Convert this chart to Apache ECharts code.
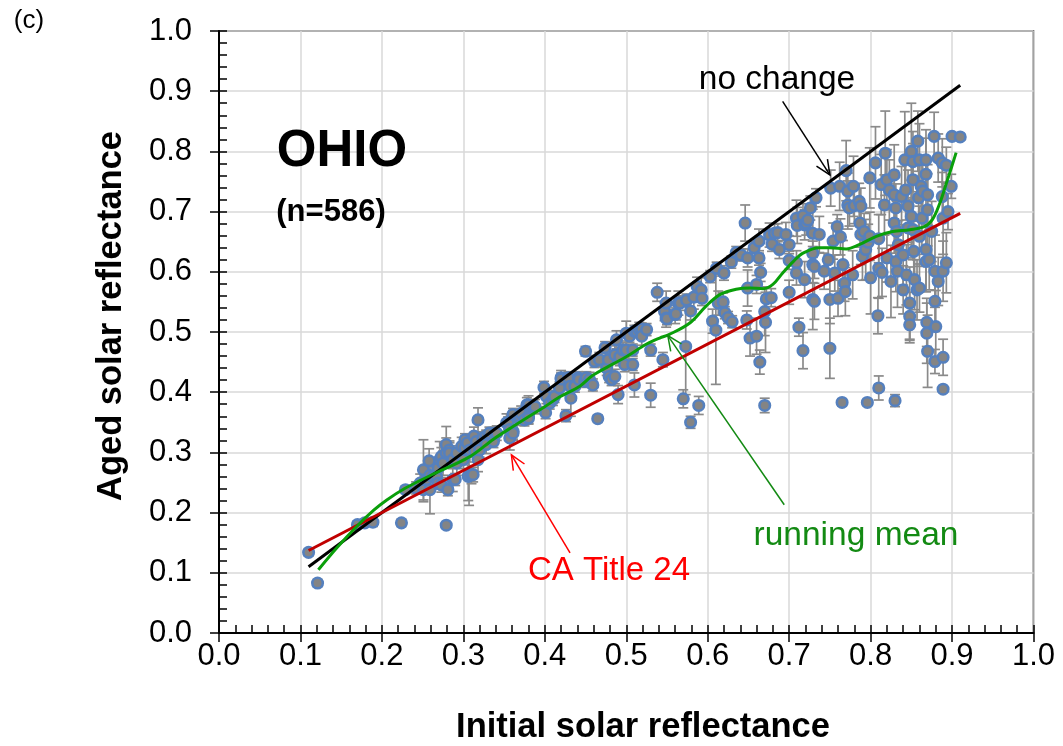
<!DOCTYPE html>
<html>
<head>
<meta charset="utf-8">
<script src="https://cdn.jsdelivr.net/npm/echarts@6/dist/echarts.min.js"></script>
<style>
html,body{margin:0;padding:0;background:#fff;}
#chart{width:1063px;height:746px;}
</style>
</head>
<body>
<div id="chart"></div>
<script>
// ---- data: [initial, aged, error half-width] ----
const lowPts = [[0.110,0.134,0.006],[0.121,0.083,0.006],[0.170,0.180,0.006],[0.179,0.183,0.006],[0.189,0.184,0.007],[0.224,0.183,0.006],[0.229,0.238,0.006],[0.279,0.179,0.005]];
const clusterPts = [[0.242,0.241,0.01],[0.247,0.249,0.015],[0.251,0.271,0.05],[0.251,0.238,0.02],[0.255,0.255,0.012],[0.258,0.286,0.02],[0.259,0.238,0.04],[0.259,0.262,0.012],[0.263,0.260,0.015],[0.267,0.260,0.02],[0.269,0.274,0.012],[0.269,0.249,0.01],[0.271,0.288,0.03],[0.273,0.293,0.015],[0.273,0.246,0.012],[0.275,0.282,0.02],[0.279,0.299,0.025],[0.279,0.313,0.03],[0.281,0.238,0.01],[0.283,0.304,0.012],[0.283,0.299,0.02],[0.287,0.288,0.015],[0.287,0.255,0.02],[0.290,0.255,0.01],[0.292,0.299,0.012],[0.292,0.282,0.02],[0.298,0.310,0.015],[0.300,0.288,0.015],[0.302,0.321,0.01],[0.302,0.307,0.02],[0.305,0.316,0.012],[0.306,0.260,0.04],[0.307,0.262,0.05],[0.308,0.304,0.02],[0.310,0.263,0.015],[0.312,0.263,0.012],[0.313,0.327,0.015],[0.314,0.302,0.01],[0.316,0.318,0.01],[0.318,0.288,0.02],[0.318,0.354,0.02],[0.320,0.304,0.012],[0.324,0.324,0.01],[0.328,0.327,0.01],[0.328,0.313,0.015],[0.332,0.332,0.01],[0.337,0.318,0.01],[0.339,0.332,0.01],[0.341,0.332,0.012]];
const midPts = [[0.353,0.349,0.015],[0.355,0.349,0.01],[0.357,0.338,0.012],[0.357,0.324,0.02],[0.361,0.363,0.01],[0.361,0.335,0.015],[0.361,0.332,0.01],[0.367,0.357,0.012],[0.369,0.360,0.01],[0.371,0.365,0.012],[0.375,0.354,0.01],[0.378,0.379,0.012],[0.380,0.379,0.015],[0.380,0.360,0.012],[0.380,0.357,0.01],[0.386,0.376,0.01],[0.388,0.376,0.012],[0.399,0.408,0.01],[0.401,0.366,0.01],[0.402,0.393,0.012],[0.406,0.382,0.01],[0.410,0.388,0.01],[0.412,0.393,0.01],[0.418,0.407,0.01],[0.420,0.424,0.012],[0.420,0.422,0.01],[0.426,0.361,0.01],[0.429,0.424,0.01],[0.431,0.410,0.012],[0.432,0.390,0.03],[0.437,0.410,0.01],[0.441,0.424,0.01],[0.442,0.421,0.01],[0.449,0.418,0.01],[0.450,0.468,0.008],[0.451,0.424,0.01],[0.455,0.421,0.012],[0.459,0.412,0.01],[0.461,0.451,0.01],[0.465,0.356,0.006],[0.467,0.454,0.012],[0.474,0.474,0.01],[0.476,0.440,0.012],[0.478,0.454,0.01],[0.479,0.426,0.01],[0.482,0.421,0.01],[0.486,0.426,0.012],[0.486,0.462,0.015],[0.488,0.487,0.015],[0.490,0.396,0.015],[0.492,0.459,0.015],[0.496,0.470,0.012],[0.498,0.446,0.012],[0.500,0.498,0.02],[0.500,0.470,0.015],[0.504,0.493,0.01],[0.508,0.470,0.01],[0.508,0.446,0.01],[0.510,0.501,0.01],[0.510,0.412,0.02],[0.513,0.501,0.01],[0.516,0.504,0.012],[0.519,0.505,0.01],[0.519,0.493,0.015]];
const upperPts = [[0.525,0.504,0.01],[0.530,0.470,0.01],[0.530,0.395,0.02],[0.538,0.566,0.015],[0.545,0.454,0.012],[0.547,0.534,0.015],[0.549,0.548,0.02],[0.549,0.523,0.015],[0.550,0.522,0.01],[0.560,0.529,0.015],[0.561,0.530,0.01],[0.564,0.548,0.02],[0.566,0.548,0.012],[0.570,0.389,0.015],[0.573,0.476,0.08],[0.574,0.553,0.01],[0.579,0.350,0.01],[0.579,0.535,0.015],[0.583,0.558,0.02],[0.587,0.576,0.015],[0.589,0.378,0.015],[0.592,0.570,0.02],[0.593,0.556,0.012],[0.603,0.592,0.01],[0.606,0.518,0.02],[0.610,0.503,0.09],[0.611,0.606,0.01],[0.613,0.548,0.02],[0.619,0.550,0.015],[0.620,0.598,0.012],[0.621,0.532,0.01],[0.625,0.524,0.01],[0.629,0.616,0.01],[0.630,0.517,0.01],[0.635,0.632,0.01],[0.641,0.628,0.01],[0.646,0.681,0.03],[0.648,0.520,0.015],[0.649,0.623,0.015],[0.649,0.573,0.03],[0.652,0.490,0.03],[0.657,0.640,0.01],[0.660,0.579,0.015],[0.660,0.493,0.03],[0.663,0.651,0.02],[0.663,0.623,0.012],[0.664,0.450,0.02],[0.665,0.599,0.015],[0.670,0.378,0.012],[0.670,0.534,0.04],[0.671,0.516,0.05],[0.672,0.555,0.02],[0.676,0.661,0.02],[0.678,0.557,0.015],[0.679,0.646,0.012],[0.682,0.664,0.015],[0.686,0.665,0.015],[0.688,0.637,0.015],[0.696,0.662,0.02],[0.700,0.645,0.015],[0.700,0.566,0.02],[0.700,0.619,0.015],[0.709,0.689,0.03],[0.709,0.615,0.02],[0.709,0.598,0.02],[0.710,0.677,0.03],[0.712,0.508,0.015],[0.717,0.469,0.03],[0.717,0.693,0.02],[0.719,0.678,0.025],[0.719,0.587,0.03],[0.721,0.681,0.02],[0.723,0.686,0.015],[0.726,0.706,0.02],[0.729,0.664,0.04],[0.729,0.612,0.03],[0.729,0.631,0.02],[0.729,0.554,0.05],[0.731,0.551,0.03],[0.731,0.609,0.02],[0.733,0.723,0.015],[0.737,0.662,0.03]];
const highPts = [[0.743,0.601,0.03],[0.748,0.620,0.02],[0.750,0.473,0.05],[0.750,0.554,0.04],[0.751,0.739,0.03],[0.754,0.651,0.03],[0.756,0.598,0.03],[0.759,0.675,0.02],[0.760,0.556,0.03],[0.762,0.742,0.04],[0.763,0.658,0.03],[0.765,0.383,0.006],[0.766,0.612,0.04],[0.768,0.581,0.03],[0.769,0.567,0.04],[0.770,0.768,0.05],[0.772,0.734,0.03],[0.772,0.711,0.04],[0.774,0.706,0.03],[0.778,0.595,0.04],[0.779,0.742,0.05],[0.780,0.710,0.03],[0.786,0.717,0.03],[0.787,0.681,0.04],[0.788,0.709,0.03],[0.788,0.662,0.05],[0.790,0.626,0.04],[0.792,0.667,0.03],[0.794,0.637,0.05],[0.796,0.383,0.005],[0.797,0.649,0.03],[0.799,0.756,0.05],[0.799,0.659,0.04],[0.800,0.590,0.06],[0.806,0.781,0.06],[0.809,0.527,0.03],[0.810,0.407,0.02],[0.810,0.655,0.04],[0.810,0.606,0.05],[0.813,0.745,0.05],[0.814,0.599,0.04],[0.817,0.711,0.05],[0.818,0.797,0.07],[0.820,0.753,0.05],[0.820,0.623,0.04],[0.823,0.736,0.05],[0.825,0.584,0.06],[0.829,0.761,0.05],[0.829,0.728,0.04],[0.829,0.681,0.05],[0.830,0.386,0.01],[0.831,0.706,0.04],[0.831,0.617,0.05],[0.832,0.667,0.05],[0.833,0.601,0.06],[0.834,0.645,0.04],[0.838,0.725,0.05],[0.840,0.628,0.05],[0.840,0.570,0.04],[0.842,0.786,0.08],[0.843,0.736,0.05],[0.844,0.595,0.05],[0.846,0.673,0.05],[0.846,0.709,0.06],[0.848,0.526,0.04],[0.848,0.548,0.06],[0.848,0.512,0.03],[0.850,0.800,0.08],[0.850,0.692,0.06],[0.852,0.783,0.05],[0.852,0.753,0.06],[0.852,0.670,0.05],[0.853,0.634,0.05],[0.854,0.587,0.05],[0.857,0.570,0.05],[0.858,0.817,0.05],[0.859,0.723,0.06],[0.860,0.786,0.06],[0.860,0.659,0.05],[0.860,0.573,0.04],[0.862,0.742,0.05],[0.863,0.689,0.06],[0.864,0.734,0.05],[0.868,0.786,0.05],[0.868,0.762,0.06],[0.868,0.637,0.07],[0.868,0.617,0.05],[0.869,0.516,0.04],[0.869,0.498,0.05],[0.870,0.468,0.06],[0.870,0.728,0.05],[0.870,0.703,0.06],[0.872,0.620,0.05],[0.875,0.667,0.05],[0.878,0.825,0.04],[0.879,0.601,0.06],[0.879,0.551,0.05],[0.879,0.451,0.02],[0.880,0.509,0.06],[0.883,0.789,0.04],[0.883,0.584,0.04],[0.888,0.725,0.04],[0.888,0.781,0.04],[0.889,0.689,0.06],[0.889,0.601,0.05],[0.889,0.458,0.03],[0.889,0.405,0.005],[0.893,0.615,0.05],[0.893,0.777,0.03],[0.895,0.700,0.03],[0.899,0.742,0.02],[0.900,0.825,0.005],[0.910,0.824,0.005]];
const runningMean = [[0.122,0.105],[0.145,0.142],[0.169,0.177],[0.19,0.204],[0.206,0.221],[0.228,0.240],[0.26,0.262],[0.308,0.293],[0.337,0.322],[0.361,0.343],[0.40,0.376],[0.418,0.392],[0.443,0.410],[0.459,0.428],[0.484,0.447],[0.50,0.459],[0.525,0.480],[0.541,0.490],[0.553,0.496],[0.578,0.515],[0.598,0.543],[0.615,0.562],[0.635,0.571],[0.652,0.573],[0.668,0.572],[0.68,0.579],[0.692,0.598],[0.705,0.617],[0.717,0.631],[0.737,0.640],[0.75,0.640],[0.77,0.638],[0.786,0.645],[0.807,0.659],[0.827,0.667],[0.848,0.670],[0.866,0.675],[0.876,0.687],[0.885,0.714],[0.893,0.747],[0.899,0.772],[0.905,0.798]];
const noChangeLine = [[0.11,0.11],[0.91,0.91]];
const caTitle24Line = [[0.11,0.137],[0.91,0.697]];
const arrows = [
  {from:[0.692,0.883], to:[0.750,0.761], color:'#000000'},
  {from:[0.694,0.213], to:[0.551,0.494], color:'#138a13'},
  {from:[0.431,0.133], to:[0.359,0.296], color:'#ff0000'}
];

const allPts = lowPts.concat(clusterPts, midPts, upperPts, highPts);
const FONT = 'Arial, "Liberation Sans", sans-serif';

const chart = echarts.init(document.getElementById('chart'), null, {renderer:'canvas'});

const tickStyle = {color:'#000', width:1.5};
function mainAxis(labelMargin){
  return {
    type:'value', min:0, max:1, interval:0.1,
    axisLine:{show:true, lineStyle:{color:'#000', width:2}},
    axisTick:{show:true, inside:false, length:9, lineStyle:tickStyle},
    minorTick:{show:false},
    axisLabel:{formatter:v=>v.toFixed(1), fontSize:31, color:'#000', fontFamily:FONT, margin:labelMargin},
    splitLine:{show:true, lineStyle:{color:'#d9d9d9', width:1.5}}
  };
}
function overlayAxis(pos){
  return {
    type:'value', min:0, max:1, interval:0.1, position:pos, offset:0,
    axisLine:{show:false}, axisLabel:{show:false}, splitLine:{show:false},
    axisTick:{show:true, inside:true, length:8, lineStyle:tickStyle},
    minorTick:{show:true, splitNumber:5, length:8, lineStyle:tickStyle}
  };
}

const option = {
  animation:false,
  grid:{left:219, right:29.5, top:31, bottom:113, show:true, borderColor:'#000', borderWidth:1.5, backgroundColor:'transparent', outerBoundsMode:'none'},
  xAxis:[Object.assign(mainAxis(8),{position:'bottom'}), overlayAxis('bottom')],
  yAxis:[Object.assign(mainAxis(27),{position:'left'}), overlayAxis('left')],
  series:[
    {
      type:'custom', name:'error', xAxisIndex:0, yAxisIndex:0, z:2,
      data: allPts,
      encode:{x:0, y:1},
      renderItem:function(params, api){
        const x = api.value(0), y = api.value(1), e = api.value(2);
        const t = api.coord([x, y+e]), b = api.coord([x, y-e]);
        const hw = 5;
        const st = {stroke:'#8a8a8a', lineWidth:1.7};
        return {type:'group', children:[
          {type:'line', shape:{x1:t[0],y1:t[1],x2:b[0],y2:b[1]}, style:st},
          {type:'line', shape:{x1:t[0]-hw,y1:t[1],x2:t[0]+hw,y2:t[1]}, style:st},
          {type:'line', shape:{x1:b[0]-hw,y1:b[1],x2:b[0]+hw,y2:b[1]}, style:st}
        ]};
      }
    },
    {
      type:'scatter', name:'samples', xAxisIndex:0, yAxisIndex:0, z:3,
      data: allPts.map(p=>[p[0],p[1]]),
      symbol:'circle', symbolSize:10.5,
      itemStyle:{color:'#848484', borderColor:'#5580be', borderWidth:2.6, opacity:1}
    },
    {
      type:'line', name:'no change', xAxisIndex:0, yAxisIndex:0, z:4,
      data:noChangeLine, showSymbol:false, symbol:'none',
      lineStyle:{color:'#000', width:3}
    },
    {
      type:'line', name:'CA Title 24', xAxisIndex:0, yAxisIndex:0, z:4,
      data:caTitle24Line, showSymbol:false, symbol:'none',
      lineStyle:{color:'#c00000', width:3}
    },
    {
      type:'line', name:'running mean', xAxisIndex:0, yAxisIndex:0, z:5,
      data:runningMean, showSymbol:false, symbol:'none', smooth:0.35,
      lineStyle:{color:'#0a9f0a', width:3}
    }
  ]
};
chart.setOption(option);

// annotations
function px(v){ return chart.convertToPixel({xAxisIndex:0, yAxisIndex:0}, v); }
const g = [];
arrows.forEach(a=>{
  const p0 = px(a.from), p1 = px(a.to);
  const ang = Math.atan2(p0[1]-p1[1], p0[0]-p1[0]);
  const L = 16, sp = 0.42;
  const w1 = [p1[0]+L*Math.cos(ang+sp), p1[1]+L*Math.sin(ang+sp)];
  const w2 = [p1[0]+L*Math.cos(ang-sp), p1[1]+L*Math.sin(ang-sp)];
  const st = {stroke:a.color, lineWidth:1.5, fill:null};
  g.push({type:'line', z:10, shape:{x1:p0[0],y1:p0[1],x2:p1[0],y2:p1[1]}, style:st});
  g.push({type:'polyline', z:10, shape:{points:[w1,p1,w2]}, style:st});
});
function txt(s, x, y, size, color, bold, rot){
  return {type:'text', z:11, x:x, y:y, rotation:rot||0,
    style:{text:s, x:0, y:0, align:'center', verticalAlign:'middle', font:(bold?'bold ':'')+size+'px '+FONT, fill:color}};
}
g.push(txt('no change', 777, 80, 33.5, '#000', false));
g.push(txt('running mean', 856, 536, 33.5, '#138a13', false));
g.push(txt('CA Title 24', 609, 571, 33, '#ff0000', false));
g.push(txt('OHIO', 342, 152, 51, '#000', true));
g.push(txt('(n=586)', 331, 212, 31, '#000', true));
g.push(txt('(c)', 29, 21, 26, '#000', false));
g.push(txt('Initial solar reflectance', 643, 727, 34.5, '#000', true));
g.push(txt('Aged solar reflectance', 111, 316, 34.5, '#000', true, Math.PI/2));
chart.setOption({graphic:g});
</script>
</body>
</html>
